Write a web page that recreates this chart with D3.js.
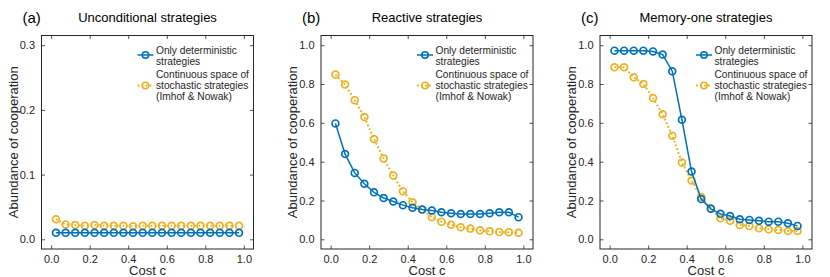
<!DOCTYPE html>
<html>
<head>
<meta charset="utf-8">
<script src="https://cdn.jsdelivr.net/npm/d3@7"></script>
<style>
  body { margin: 0; background: #fff; }
  svg { display: block; font-family: "Liberation Sans", Arial, Helvetica, sans-serif; }
</style>
</head>
<body>
<svg id="chart" width="830" height="277"></svg>
<script>
// cost values on the x axis
var costs = [0.025, 0.075, 0.125, 0.175, 0.225, 0.275, 0.325, 0.375, 0.425, 0.475,
             0.525, 0.575, 0.625, 0.675, 0.725, 0.775, 0.825, 0.875, 0.925, 0.975];

// (a) unconditional strategies
var uncondDet = [0.010, 0.010, 0.010, 0.010, 0.010, 0.010, 0.010, 0.010, 0.010, 0.010,
                 0.010, 0.010, 0.010, 0.010, 0.010, 0.010, 0.010, 0.010, 0.010, 0.010];
var uncondStoch = [0.031, 0.023, 0.022, 0.021, 0.022, 0.021, 0.021, 0.021, 0.020, 0.021,
                   0.021, 0.021, 0.021, 0.021, 0.021, 0.021, 0.021, 0.021, 0.021, 0.021];

// (b) reactive strategies
var reactDet = [0.597, 0.439, 0.342, 0.286, 0.242, 0.213, 0.195, 0.176, 0.163, 0.153,
                0.148, 0.139, 0.134, 0.130, 0.130, 0.130, 0.134, 0.139, 0.139, 0.114];
var reactStoch = [0.849, 0.797, 0.717, 0.630, 0.517, 0.416, 0.329, 0.248, 0.191, 0.153,
                  0.114, 0.091, 0.075, 0.062, 0.055, 0.046, 0.041, 0.037, 0.036, 0.034];

// (c) memory-one strategies
var memDet = [0.972, 0.972, 0.972, 0.972, 0.968, 0.952, 0.866, 0.616, 0.349, 0.207,
              0.157, 0.131, 0.120, 0.103, 0.100, 0.095, 0.091, 0.091, 0.083, 0.069];
var memStoch = [0.886, 0.886, 0.835, 0.800, 0.728, 0.644, 0.534, 0.396, 0.303, 0.218,
                0.160, 0.108, 0.096, 0.074, 0.069, 0.057, 0.052, 0.048, 0.043, 0.043];

var xTicks = [0, 0.2, 0.4, 0.6, 0.8, 1.0];
var yTicksA = [0, 0.1, 0.2, 0.3];
var yTicksBC = [0, 0.2, 0.4, 0.6, 0.8, 1.0];

var panelLabels = ["(a)", "(b)", "(c)"];
var panelTitles = ["Unconditional strategies", "Reactive strategies", "Memory-one strategies"];
var legendDet = ["Only deterministic", "strategies"];
var legendStoch = ["Continuous space of", "stochastic strategies", "(Imhof & Nowak)"];

var colorDet = "#0072BD";
var colorStoch = "#EDB120";

var panels = [
  {left: 41.5, det: uncondDet, stoch: uncondStoch, yDomain: [-0.015, 0.315], yTicks: yTicksA},
  {left: 321,  det: reactDet,  stoch: reactStoch,  yDomain: [-0.05, 1.05],   yTicks: yTicksBC},
  {left: 600,  det: memDet,    stoch: memStoch,    yDomain: [-0.05, 1.05],   yTicks: yTicksBC}
];

var panelTop = 35.5, w = 212, h = 213.5;
var svg = d3.select("#chart");

panels.forEach(function(p, i) {
  var g = svg.append("g").attr("transform", "translate(" + p.left + "," + panelTop + ")");
  var x = d3.scaleLinear().domain([-0.05, 1.05]).range([0, w]);
  var y = d3.scaleLinear().domain(p.yDomain).range([h, 0]);

  // ticks, inward on all four sides
  var tl = 3.5;
  g.append("g").attr("transform", "translate(0," + h + ")")
    .call(d3.axisBottom(x).tickValues(xTicks).tickSizeInner(-tl).tickSizeOuter(0).tickPadding(6)
      .tickFormat(d3.format(".1f")));
  g.append("g")
    .call(d3.axisTop(x).tickValues(xTicks).tickSizeInner(-tl).tickSizeOuter(0).tickFormat(""));
  g.append("g")
    .call(d3.axisLeft(y).tickValues(p.yTicks).tickSizeInner(-tl).tickSizeOuter(0).tickPadding(6.5)
      .tickFormat(d3.format(".1f")));
  g.append("g").attr("transform", "translate(" + w + ",0)")
    .call(d3.axisRight(y).tickValues(p.yTicks).tickSizeInner(-tl).tickSizeOuter(0).tickFormat(""));
  g.selectAll(".domain").remove();
  g.selectAll(".tick line").attr("stroke", "#262626").attr("stroke-width", 0.8);
  g.selectAll(".tick text").attr("fill", "#262626").style("font-size", "11px")
    .style("font-family", "Liberation Sans, Arial, sans-serif");

  // frame
  g.append("rect").attr("x", 0).attr("y", 0).attr("width", w).attr("height", h)
    .attr("fill", "none").attr("stroke", "#262626").attr("stroke-width", 1);

  // series
  var line = d3.line().x(function(d, j) { return x(costs[j]); }).y(function(d) { return y(d); });
  g.append("path").datum(p.stoch).attr("d", line).attr("fill", "none")
    .attr("stroke", colorStoch).attr("stroke-width", 2).attr("stroke-dasharray", "1.8,2.2");
  g.selectAll(".ms").data(p.stoch).enter().append("circle")
    .attr("cx", function(d, j) { return x(costs[j]); }).attr("cy", function(d) { return y(d); })
    .attr("r", 3.4).attr("fill", "none").attr("stroke", colorStoch).attr("stroke-width", 1.7);
  g.append("path").datum(p.det).attr("d", line).attr("fill", "none")
    .attr("stroke", colorDet).attr("stroke-width", 1.5);
  g.selectAll(".md").data(p.det).enter().append("circle")
    .attr("cx", function(d, j) { return x(costs[j]); }).attr("cy", function(d) { return y(d); })
    .attr("r", 3.4).attr("fill", "none").attr("stroke", colorDet).attr("stroke-width", 1.7);

  // legend
  var lx = w - 116, tx = w - 97.5;
  var lg = g.append("g").attr("class", "legend");
  lg.append("line").attr("x1", lx).attr("x2", lx + 16).attr("y1", 19.5).attr("y2", 19.5)
    .attr("stroke", colorDet).attr("stroke-width", 1.5);
  lg.append("circle").attr("cx", lx + 8).attr("cy", 19.5).attr("r", 3.2)
    .attr("fill", "none").attr("stroke", colorDet).attr("stroke-width", 1.6);
  lg.append("line").attr("x1", lx).attr("x2", lx + 16).attr("y1", 50).attr("y2", 50)
    .attr("stroke", colorStoch).attr("stroke-width", 2).attr("stroke-dasharray", "1.8,2.2");
  lg.append("circle").attr("cx", lx + 8).attr("cy", 50).attr("r", 3.2)
    .attr("fill", "none").attr("stroke", colorStoch).attr("stroke-width", 1.6);
  legendDet.forEach(function(t, k) {
    lg.append("text").attr("x", tx).attr("y", 15 + k * 10.8).attr("dy", "0.35em")
      .style("font-size", "10.2px").attr("fill", "#262626").text(t);
  });
  legendStoch.forEach(function(t, k) {
    lg.append("text").attr("x", tx).attr("y", 39.4 + k * 10.7).attr("dy", "0.35em")
      .style("font-size", "10.2px").attr("fill", "#262626").text(t);
  });

  // axis titles
  g.append("text").attr("transform", "translate(" + (-24) + "," + (h / 2) + ") rotate(-90)")
    .attr("text-anchor", "middle").style("font-size", "13px").attr("fill", "#262626")
    .text("Abundance of cooperation");
  g.append("text").attr("x", w / 2).attr("y", h + 25.5).attr("text-anchor", "middle")
    .style("font-size", "13px").attr("fill", "#262626").text("Cost c");

  // panel label and title
  g.append("text").attr("x", -19).attr("y", -13).style("font-size", "15px").attr("fill", "#000")
    .text(panelLabels[i]);
  g.append("text").attr("x", w / 2).attr("y", -14).attr("text-anchor", "middle")
    .style("font-size", "13px").attr("fill", "#000").text(panelTitles[i]);
});
</script>
</body>
</html>
